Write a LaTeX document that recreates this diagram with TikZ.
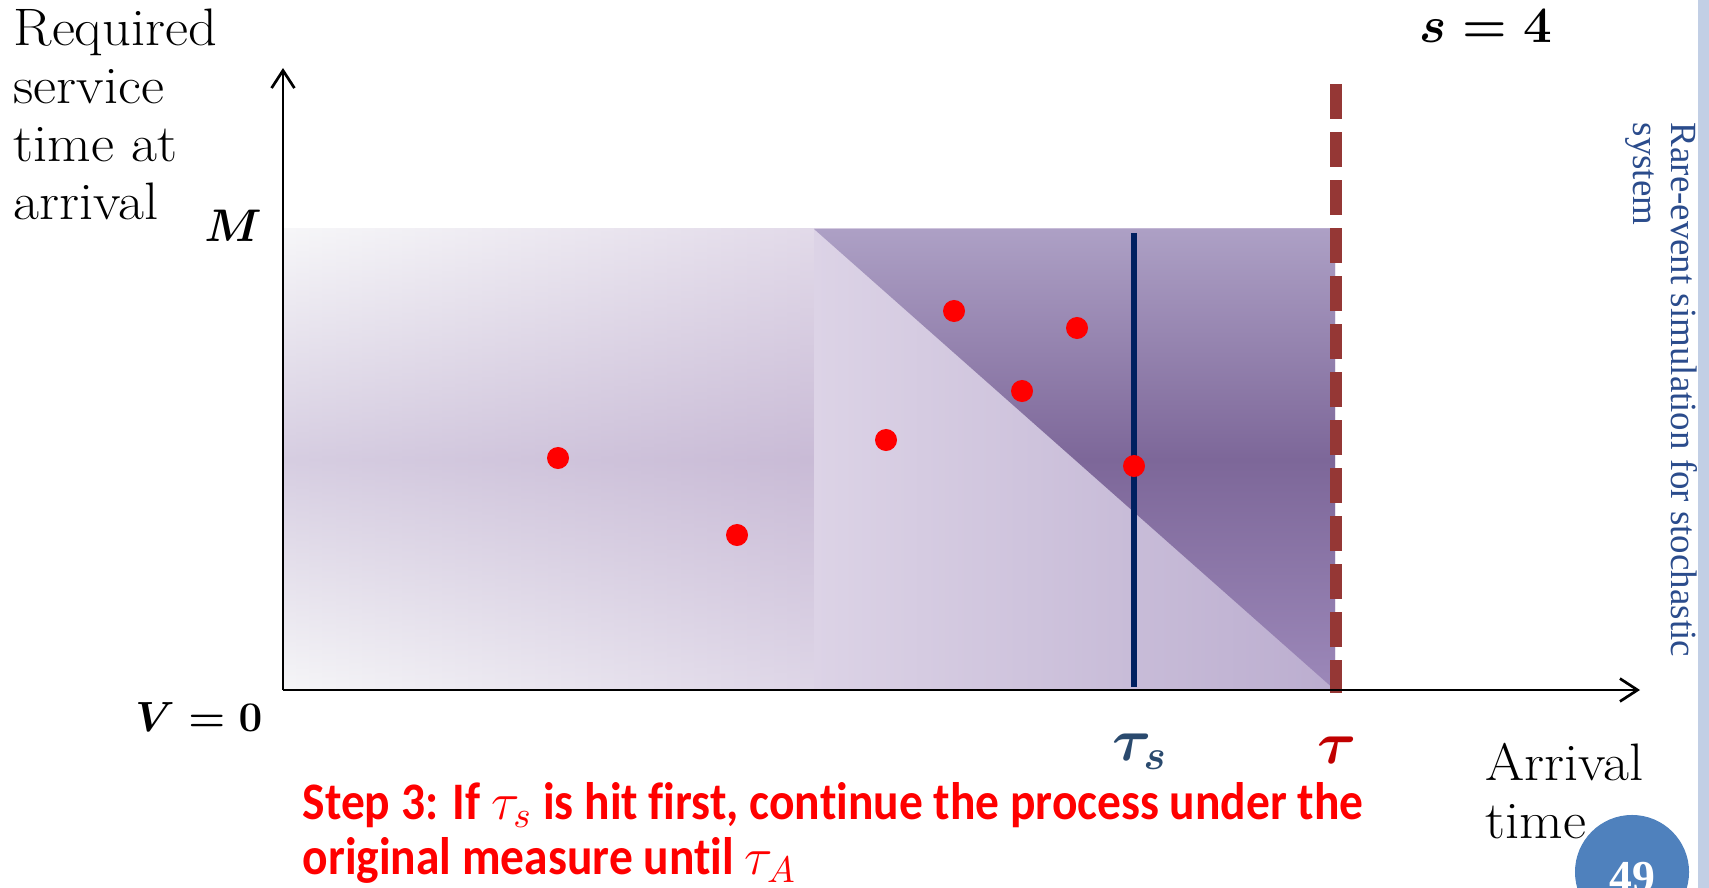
\RequirePackage{fix-cm}
\documentclass[tikz,border=0pt]{standalone}
\usepackage{fontspec}
\usepackage{amsmath}
\usepackage{tikz}
\usetikzlibrary{arrows.meta}

\newfontfamily\calibrifont{Carlito}[FakeStretch=0.9, Ligatures=NoCommon]
\newfontfamily\timesfont{Liberation Serif}
\newfontfamily\wideserif{Latin Modern Roman}[FakeStretch=1.07]

\begin{document}
\begin{tikzpicture}[x=0.01cm, y=-0.01cm, font=\wideserif\fontsize{15}{16.5}\selectfont]

\definecolor{dotRed}{HTML}{FF0000}
\definecolor{tauNavy}{HTML}{002060}
\definecolor{dashRed}{HTML}{953735}
\definecolor{tauSblue}{HTML}{2A4A6E}
\definecolor{tauRed}{HTML}{C00000}
\definecolor{sideBlue}{HTML}{2B4C8C}
\definecolor{pageBlue}{HTML}{4F81BD}
\definecolor{stripeBlue}{HTML}{C2CFE5}
\definecolor{lzTopL}{HTML}{F6F6F8}
\definecolor{lzMidL}{HTML}{D6CDE1}
\definecolor{lzBotL}{HTML}{F5F5F7}
\definecolor{lzTopR}{HTML}{E2DAE9}
\definecolor{lzMidR}{HTML}{C9BBD6}
\definecolor{lzBotR}{HTML}{DED6E7}

\useasboundingbox (0,0) rectangle (1709,888);

% ===== left zone (x 283..814), faded at the left =====
\foreach \i in {0,...,39} {
  \pgfmathsetmacro{\p}{\i*2.5641}
  \pgfmathsetmacro{\xa}{283+\i*13.275}
  \pgfmathsetmacro{\xb}{\xa+15.275}
  \shade[top color=lzTopR!\p!lzTopL, bottom color=lzBotR!\p!lzBotL,
         middle color=lzMidR!\p!lzMidL] (\xa,229) rectangle (\xb,690);
}

% ===== right zone (x 814..1335): light part, then dark triangle =====
\shade[left color={rgb,255:red,220;green,211;blue,230}, right color={rgb,255:red,187;green,173;blue,207}]
  (814,229) rectangle (1335,690);
\shade[top color={rgb,255:red,173;green,160;blue,197}, bottom color={rgb,255:red,156;green,136;blue,185},
       middle color={rgb,255:red,125;green,103;blue,153}]
  (814,229) -- (1335,229) -- (1335,690) -- cycle;

% tau_s line and tau line
\draw[tauNavy, line width=0.06cm] (1134,233) -- (1134,687);
\draw[dashRed, line width=0.12cm, dash pattern=on 0.35cm off 0.13cm] (1336,84) -- (1336,693);

% arrivals
\foreach \x/\y in {558/458, 737/535, 886/440, 954/311, 1022/391, 1077/328, 1134/466}
  \fill[dotRed] (\x,\y) circle[radius=0.11cm];

% axes
\coordinate (O) at (283,690);
\coordinate (ytop) at (283,68);
\coordinate (xend) at (1640,690);
\draw[line width=0.027cm, -{Straight Barb[length=5pt,width=6.5pt]}] (O) -- (ytop);
\draw[line width=0.027cm, -{Straight Barb[length=5pt,width=6.5pt]}] (O) -- (xend);

% labels
\node[anchor=north west, align=left, inner sep=0] (ylabel) at (13,8) {Required\\service\\time at\\arrival};
\node[inner sep=0] (mlabel) at (233,226) {\fontsize{13}{15}\selectfont$\boldsymbol{M}$};
\node[inner sep=0] (vlabel) at (199,717) {\fontsize{12}{14}\selectfont$\boldsymbol{V=0}$};
\node[inner sep=0] (slabel) at (1486,26) {\fontsize{14.5}{16}\selectfont$\boldsymbol{s=4}$};
\node[inner sep=0, text=tauSblue] (taus) at (1140,752) {\fontsize{17}{19}\selectfont$\boldsymbol{\tau_s}$};
\node[inner sep=0, text=tauRed] (tau) at (1337,750) {\fontsize{17}{19}\selectfont$\boldsymbol{\tau}$};
\node[anchor=north west, align=left, inner sep=0] (xlabel) at (1485,742) {Arrival\\time};

% ===== step text =====
\node[anchor=north west, align=left, inner sep=0, text=dotRed,
      font=\calibrifont\bfseries\fontsize{15}{15.6}\selectfont] (steptext) at (302,782)
  {Step 3: If $\tau_s$ is hit first, continue the process under the\\original measure until $\tau_A$};

% ===== slide frame bits =====
\fill[stripeBlue] (1698,0) rectangle (1709,888);
\node[rotate=-90, anchor=north west, align=left, inner sep=0, text=sideBlue,
      font=\timesfont\fontsize{10.5}{10.8}\selectfont] (sidetext) at (1698,122)
  {Rare-event simulation for stochastic\\system};
\fill[pageBlue] (1632,872) circle[radius=0.57cm];
\node[text=white, font=\timesfont\bfseries\fontsize{13}{13}\selectfont] (pagenum) at (1632,878) {49};

\end{tikzpicture}
\end{document}
